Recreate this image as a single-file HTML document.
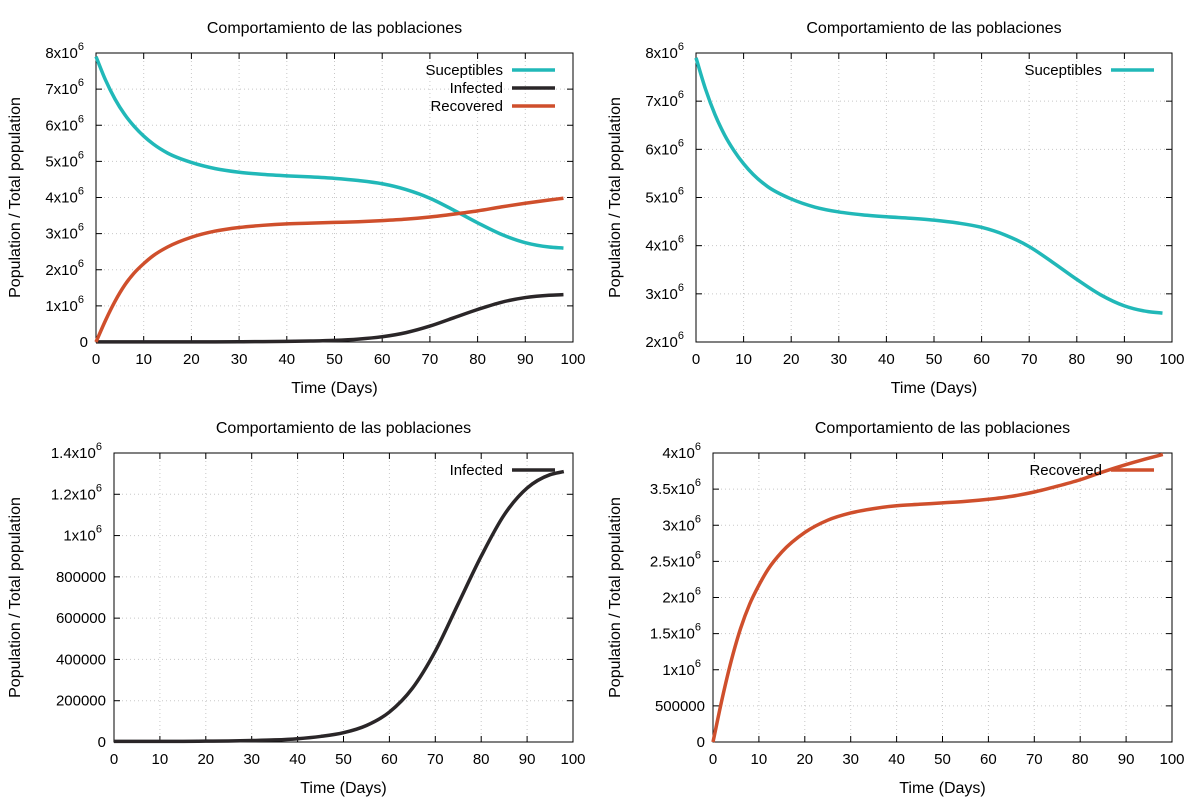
<!DOCTYPE html>
<html><head><meta charset="utf-8"><style>
html,body{margin:0;padding:0;background:#fff;}
svg{display:block;font-family:"Liberation Sans",sans-serif;}
</style></head><body>
<svg id="c" width="1200" height="800"></svg>
<script>
const days=[0,2,4,6,8,10,12,15,20,25,30,35,40,45,50,55,60,65,70,75,80,85,90,95,98];
const susceptibles=[7.9,7.25,6.72,6.3,5.97,5.7,5.48,5.23,4.97,4.8,4.7,4.64,4.6,4.57,4.53,4.47,4.38,4.22,3.98,3.65,3.3,2.98,2.75,2.63,2.6];
const infected=[0.003,0.003,0.003,0.003,0.003,0.003,0.003,0.003,0.004,0.005,0.007,0.01,0.016,0.027,0.045,0.08,0.145,0.26,0.44,0.67,0.9,1.1,1.23,1.295,1.31];
const recovered=[0,0.6,1.13,1.57,1.91,2.17,2.39,2.63,2.9,3.07,3.17,3.23,3.27,3.29,3.31,3.33,3.36,3.4,3.46,3.54,3.63,3.74,3.84,3.93,3.98];
const xTicks=[0,10,20,30,40,50,60,70,80,90,100];
const ticks1=[0,1,2,3,4,5,6,7,8];
const ticks2=[2,3,4,5,6,7,8];
const ticks3=[0,0.2,0.4,0.6,0.8,1.0,1.2,1.4];
const ticks4=[0,0.5,1,1.5,2,2.5,3,3.5,4];
const COL={S:"#21b8b8",I:"#2a2628",R:"#cf4f2c"};
const NS="http://www.w3.org/2000/svg";
const svg=document.getElementById('c');
function mk(tag,attrs,parent){const e=document.createElementNS(NS,tag);for(const k in attrs)e.setAttribute(k,attrs[k]);(parent||svg).appendChild(e);return e;}
function fmt(v){
  if(v===0)return ["0",null];
  if(v<1)return [String(Math.round(v*1e6)),null];
  let m=Math.round(v*10)/10;return [m+"x10","6"];
}
function smoothPath(pts){
  const n=pts.length,sl=[],m=[];
  for(let k=0;k<n-1;k++)sl.push((pts[k+1][1]-pts[k][1])/(pts[k+1][0]-pts[k][0]));
  for(let k=0;k<n;k++){
    if(k===0)m.push(sl[0]);else if(k===n-1)m.push(sl[n-2]);
    else{
      const h0=pts[k][0]-pts[k-1][0],h1=pts[k+1][0]-pts[k][0];
      m.push((sl[k-1]*h1+sl[k]*h0)/(h0+h1));
    }
  }
  let d="M"+pts[0][0]+","+pts[0][1];
  for(let k=0;k<n-1;k++){
    const h=(pts[k+1][0]-pts[k][0])/3;
    d+=`C${pts[k][0]+h},${pts[k][1]+m[k]*h} ${pts[k+1][0]-h},${pts[k+1][1]-m[k+1]*h} ${pts[k+1][0]},${pts[k+1][1]}`;
  }
  return d;
}
function panel(o){
  const g=mk('g',{});
  
  
  const X=d=>o.x0+(d/100)*(o.x1-o.x0);
  const Y=v=>o.y1-(v-o.ymin)/(o.ymax-o.ymin)*(o.y1-o.y0);
  xTicks.forEach(t=>{if(t>0&&t<100)mk('line',{x1:X(t),x2:X(t),y1:o.y0,y2:o.y1,stroke:"#c8c8c8","stroke-dasharray":"1,3"},g);});
  o.yt.forEach(t=>{if(t>o.ymin&&t<o.ymax)mk('line',{x1:o.x0,x2:o.x1,y1:Y(t),y2:Y(t),stroke:"#c8c8c8","stroke-dasharray":"1,3"},g);});
  const fr=mk('rect',{x:o.x0,y:o.y0,width:o.x1-o.x0,height:o.y1-o.y0,fill:"none",stroke:"#000","stroke-width":1},g);
  
  xTicks.forEach(t=>{
    mk('line',{x1:X(t),x2:X(t),y1:o.y1,y2:o.y1-6,stroke:"#000"},g);
    mk('line',{x1:X(t),x2:X(t),y1:o.y0,y2:o.y0+6,stroke:"#000"},g);
    const tx=mk('text',{x:X(t),y:o.y1+22,"text-anchor":"middle","font-size":15},g);tx.textContent=t;
    
  });
  o.yt.forEach(t=>{
    mk('line',{x1:o.x0,x2:o.x0+6,y1:Y(t),y2:Y(t),stroke:"#000"},g);
    mk('line',{x1:o.x1,x2:o.x1-6,y1:Y(t),y2:Y(t),stroke:"#000"},g);
    const f=fmt(t);
    const tx=mk('text',{x:o.x0-(f[1]?12:8),y:Y(t)+5,"text-anchor":"end","font-size":15},g);
    
    tx.appendChild(document.createTextNode(f[0]));
    if(f[1]){const s=mk('tspan',{"font-size":11,dy:-8},tx);s.textContent=f[1];}
  });
  const ti=mk('text',{x:(o.x0+o.x1)/2,y:o.y0-20,"text-anchor":"middle","font-size":16},g);ti.textContent="Comportamiento de las poblaciones";
  
  const xl=mk('text',{x:(o.x0+o.x1)/2,y:o.y1+51,"text-anchor":"middle","font-size":16},g);xl.textContent="Time (Days)";
  
  const cy=(o.y0+o.y1)/2,cx=o.yl;
  const yl=mk('text',{x:cx,y:cy,"text-anchor":"middle","font-size":16,transform:`rotate(-90 ${cx} ${cy})`},g);yl.textContent="Population / Total population";
  
  o.series.forEach((s,i)=>{
    const pts=days.map((d,j)=>[X(d),Y(s.v[j])]);
    const p=mk('path',{d:smoothPath(pts),fill:"none",stroke:s.c,"stroke-width":3.5,"stroke-linejoin":"round"},g);
    
    const ly=o.y0+17+i*18;
    const lt=mk('text',{x:o.x1-70,y:ly+5,"text-anchor":"end","font-size":15},g);lt.textContent=s.n;
    
    mk('line',{x1:o.x1-61,x2:o.x1-18,y1:ly,y2:ly,stroke:s.c,"stroke-width":3.5},g);
  });
}
panel({name:'panel-all',x0:96,x1:573,y0:53,y1:342,ymin:0,ymax:8,yt:ticks1,yl:20,
  series:[{n:"Suceptibles",v:susceptibles,c:COL.S},{n:"Infected",v:infected,c:COL.I},{n:"Recovered",v:recovered,c:COL.R}]});
panel({name:'panel-susceptibles',x0:696,x1:1172,y0:53,y1:342,ymin:2,ymax:8,yt:ticks2,yl:620,
  series:[{n:"Suceptibles",v:susceptibles,c:COL.S}]});
panel({name:'panel-infected',x0:114,x1:573,y0:453,y1:742,ymin:0,ymax:1.4,yt:ticks3,yl:20,
  series:[{n:"Infected",v:infected,c:COL.I}]});
panel({name:'panel-recovered',x0:713,x1:1172,y0:453,y1:742,ymin:0,ymax:4,yt:ticks4,yl:620,
  series:[{n:"Recovered",v:recovered,c:COL.R}]});
</script>
</body></html>
